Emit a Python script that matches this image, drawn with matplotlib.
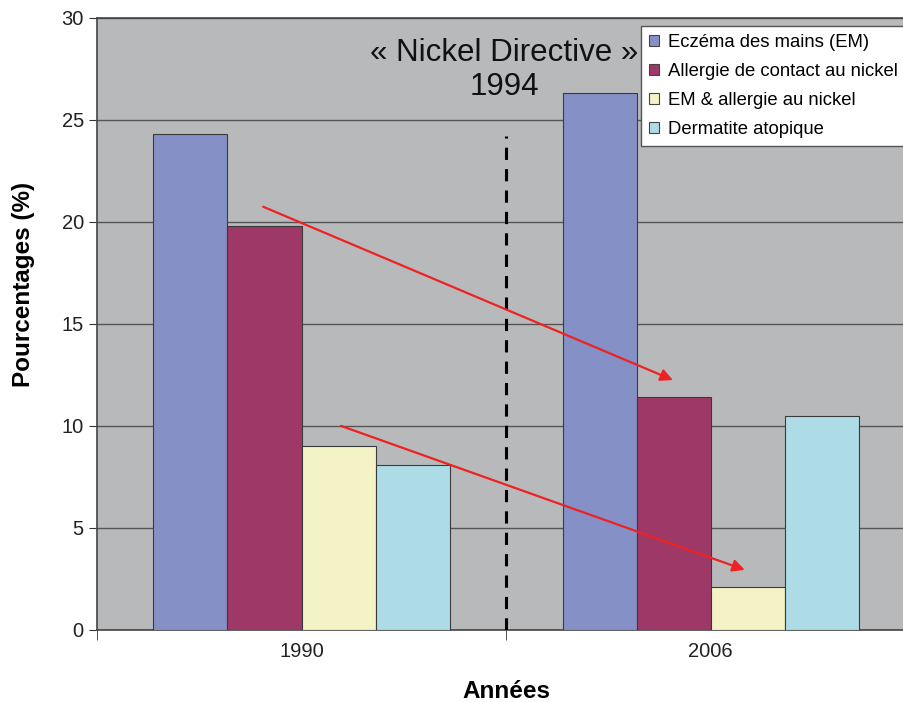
import numpy as np
import matplotlib
matplotlib.use("Agg")
import matplotlib.pyplot as plt

plt.rcParams['font.family'] = ['Liberation Sans', 'DejaVu Sans']

# data
years = ["1990", "2006"]
series = ["Eczéma des mains (EM)", "Allergie de contact au nickel",
          "EM & allergie au nickel", "Dermatite atopique"]
eczema = [24.3, 26.3]
allergie = [19.8, 11.4]
em_nickel = [9.0, 2.1]
dermatite = [8.1, 10.5]
colors = ['#8590C6', '#9E3866', '#F4F3C6', '#ADDBE6']

values = [eczema, allergie, em_nickel, dermatite]

fig = plt.figure(figsize=(9.04, 7.02), dpi=100, facecolor='white')
ax = fig.add_axes([0.1073, 0.1026, 0.905, 0.8718])
ax.set_facecolor('#B8B9BB')

x = np.arange(len(years))
w = 0.181
for i, (vals, c, lab) in enumerate(zip(values, colors, series)):
    ax.bar(x + (i - 1.5) * w, vals, w, color=c, edgecolor='#3a3a3a',
           linewidth=0.8, label=lab, zorder=3)

ax.set_xlim(-0.5, 1.5)
ax.set_ylim(0, 30)
ax.set_yticks(np.arange(0, 31, 5))
ax.set_xticks(x)
ax.set_xticklabels(years, fontsize=14.5)
ax.set_xticks([-0.5, 0.5, 1.5], minor=True)
ax.tick_params(axis='x', which='major', length=0, pad=9, labelcolor='#222222')
ax.tick_params(axis='x', which='minor', length=7, color='#333333')
ax.tick_params(axis='y', labelsize=14.5, length=6, color='#333333',
               labelcolor='#222222')
ax.yaxis.grid(True, color='#555555', linewidth=1.0, zorder=0)
ax.set_axisbelow(True)
for s in ['left', 'top', 'bottom']:
    ax.spines[s].set_color('#444444')
    ax.spines[s].set_linewidth(1.2)
ax.spines['right'].set_visible(False)

ax.set_ylabel("Pourcentages (%)", fontsize=17.5, fontweight='bold')
ax.yaxis.set_label_coords(-0.076, 0.565)
ax.set_xlabel("Années", fontsize=17.5, fontweight='bold', labelpad=13)

# Nickel directive marker
ax.plot([0.5, 0.5], [0, 24.2], color='black', lw=2.2, ls=(0, (4, 3)), zorder=4)
ax.text(0.495, 27.45, "« Nickel Directive »\n1994", ha='center', va='center',
        fontsize=22.5, linespacing=1.18, color='#111111', zorder=5)

# arrows
arrow_kw = dict(arrowstyle='-|>', color='#EE2222', lw=1.6, mutation_scale=18)
ax.annotate("", xy=(0.914, 12.2), xytext=(-0.100, 20.8), arrowprops=arrow_kw, zorder=6)
ax.annotate("", xy=(1.090, 2.9), xytext=(0.090, 10.05), arrowprops=arrow_kw, zorder=6)

leg = ax.legend(loc='upper left', bbox_to_anchor=(0.665, 0.987), fontsize=13.3,
                frameon=True, fancybox=False, edgecolor='#555555',
                facecolor='white', framealpha=1,
                handlelength=0.55, handleheight=0.55, handletextpad=0.5,
                labelspacing=0.66, borderpad=0.42, borderaxespad=0)
leg.get_frame().set_linewidth(1.0)
for h in leg.legend_handles:
    h.set_edgecolor('#444444')
leg.set_zorder(10)

fig.savefig("out.png", dpi=100)
